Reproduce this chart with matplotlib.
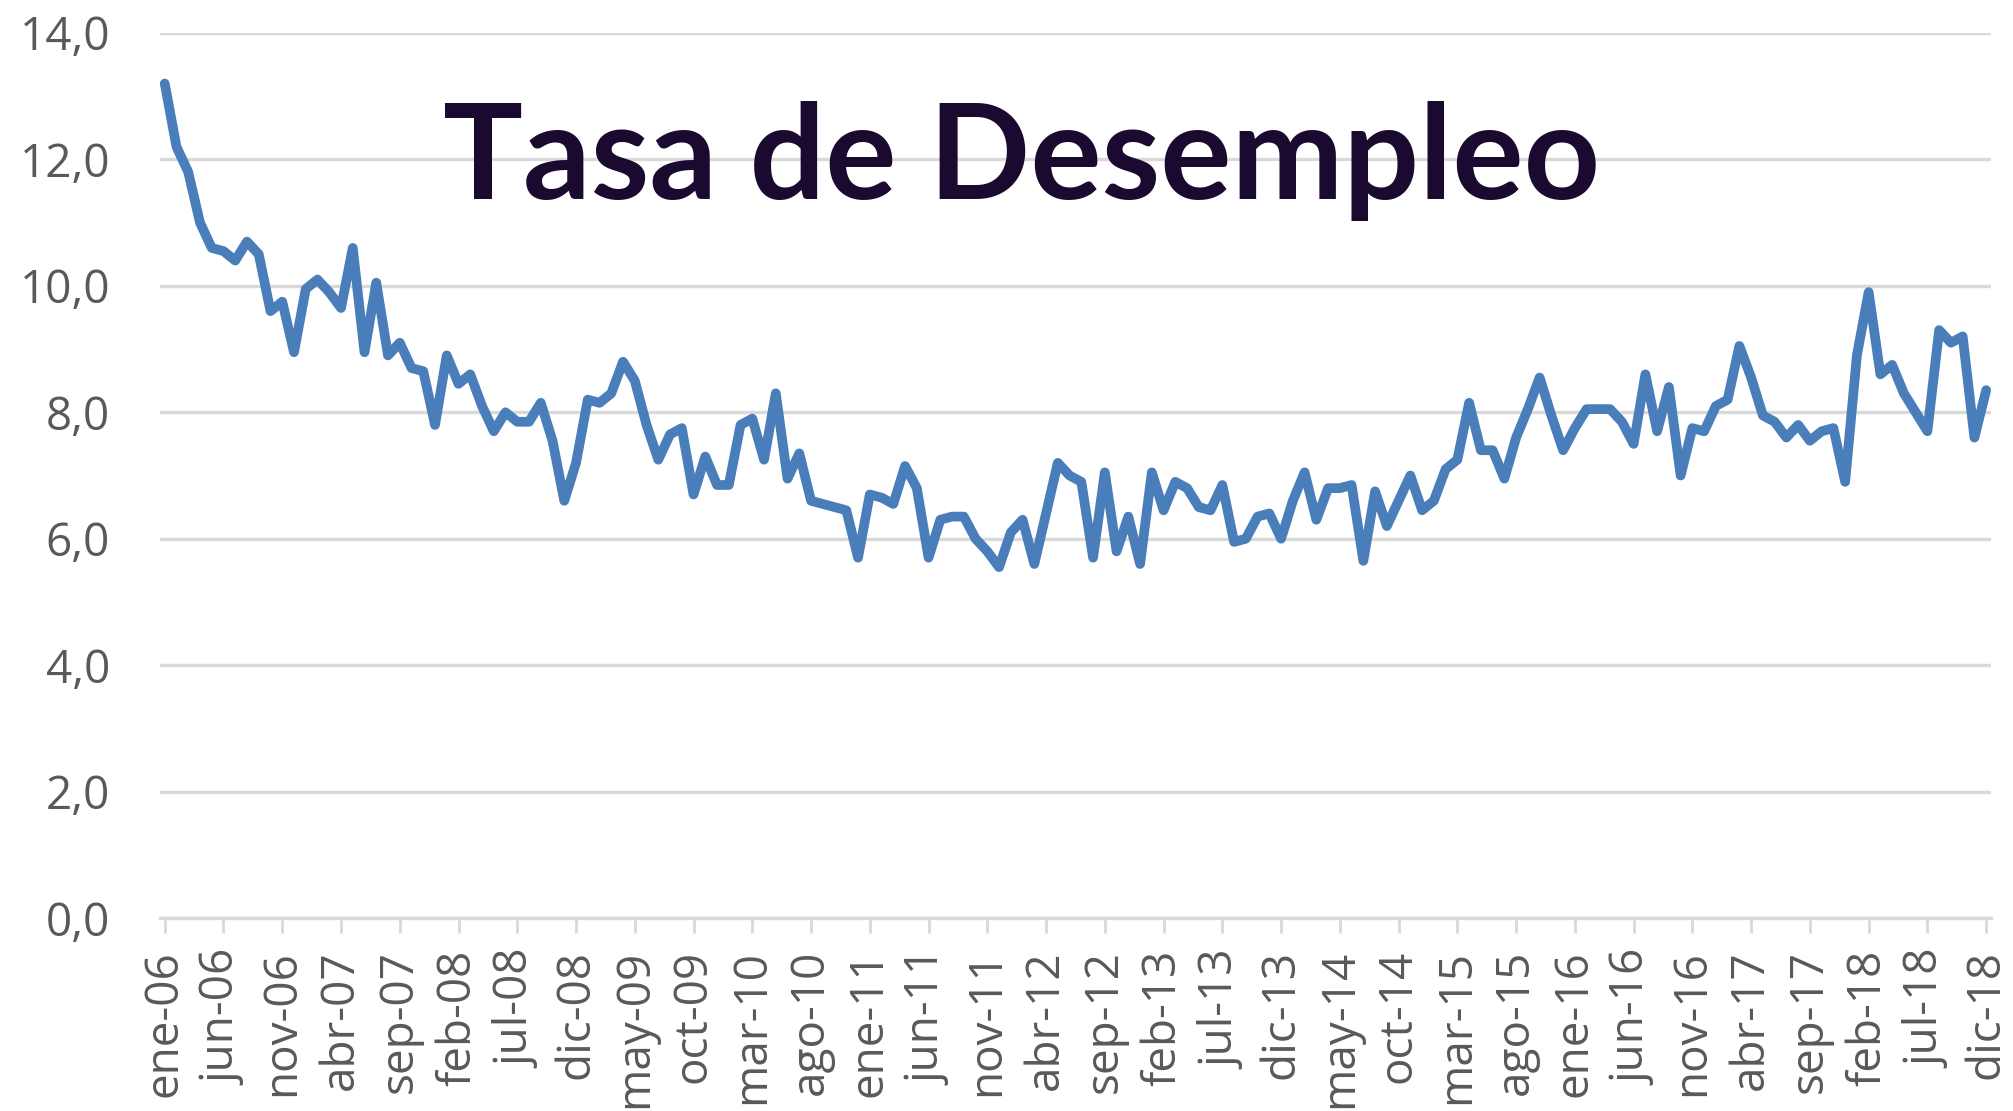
import matplotlib
matplotlib.use("Agg")
import matplotlib.pyplot as plt
from matplotlib.ticker import FuncFormatter

LINE_BLUE  = "#4a7ebb"
GRID_GRAY  = "#d9d9d9"
LABEL_GRAY = "#595959"
TITLE_INK  = "#1b0a30"

# ── data: monthly unemployment rate, ene-06 .. dic-18 ──
months_es = ["ene", "feb", "mar", "abr", "may", "jun",
             "jul", "ago", "sep", "oct", "nov", "dic"]
years = list(range(2006, 2019))
month_labels = [f"{m}-{y % 100:02d}" for y in years for m in months_es]

rate = [
    13.2, 12.2, 11.8, 11.0, 10.6, 10.55, 10.4, 10.7, 10.5, 9.6, 9.75, 8.95,
    9.95, 10.1, 9.9, 9.65, 10.6, 8.95, 10.05, 8.9, 9.1, 8.7, 8.65, 7.8,
    8.9, 8.45, 8.6, 8.1, 7.7, 8.0, 7.85, 7.85, 8.15, 7.55, 6.6, 7.2,
    8.2, 8.15, 8.3, 8.8, 8.5, 7.8, 7.25, 7.65, 7.75, 6.7, 7.3, 6.85,
    6.85, 7.8, 7.9, 7.25, 8.3, 6.95, 7.35, 6.6, 6.55, 6.5, 6.45, 5.7,
    6.7, 6.65, 6.55, 7.15, 6.8, 5.7, 6.3, 6.35, 6.35, 6.0, 5.8, 5.55,
    6.1, 6.3, 5.6, 6.4, 7.2, 7.0, 6.9, 5.7, 7.05, 5.8, 6.35, 5.6,
    7.05, 6.45, 6.9, 6.8, 6.5, 6.45, 6.85, 5.95, 6.0, 6.35, 6.4, 6.0,
    6.6, 7.05, 6.3, 6.8, 6.8, 6.85, 5.65, 6.75, 6.2, 6.6, 7.0, 6.45,
    6.6, 7.1, 7.25, 8.15, 7.4, 7.4, 6.95, 7.6, 8.05, 8.55, 7.95, 7.4,
    7.75, 8.05, 8.05, 8.05, 7.85, 7.5, 8.6, 7.7, 8.4, 7.0, 7.75, 7.7,
    8.1, 8.2, 9.05, 8.55, 7.95, 7.85, 7.6, 7.8, 7.55, 7.7, 7.75, 6.9,
    8.9, 9.9, 8.6, 8.75, 8.3, 8.0, 7.7, 9.3, 9.1, 9.2, 7.6, 8.35,
]
y_ticks = [0, 2, 4, 6, 8, 10, 12, 14]
label_step = 5

fig = plt.figure(figsize=(20.13, 11.11), dpi=100, facecolor="white")
ax = fig.add_axes([0.0795, 0.1737, 0.9095, 0.7966])

x = list(range(len(rate)))
ax.plot(x, rate, color=LINE_BLUE, linewidth=7, solid_capstyle="round",
        solid_joinstyle="round", zorder=3)

ax.set_ylim(0, 14)
ax.set_xlim(-0.4, len(rate) - 1 + 0.4)
ax.set_yticks(y_ticks)
ax.yaxis.set_major_formatter(FuncFormatter(lambda v, _: f"{v:.1f}".replace(".", ",")))
ax.yaxis.grid(True, color=GRID_GRAY, linewidth=2.4, zorder=0)
ax.set_axisbelow(True)

tick_pos = x[::label_step]
ax.set_xticks(tick_pos)
ax.set_xticklabels([month_labels[i] for i in tick_pos], rotation=90)

for side in ["top", "right", "left"]:
    ax.spines[side].set_visible(False)
ax.spines["bottom"].set_color(GRID_GRAY)
ax.spines["bottom"].set_linewidth(2.4)

ax.tick_params(axis="y", length=0, pad=36, labelsize=33, labelcolor=LABEL_GRAY)
ax.tick_params(axis="x", length=11, width=2, color=GRID_GRAY, pad=12,
               labelsize=33, labelcolor=LABEL_GRAY)
for lbl in ax.get_xticklabels() + ax.get_yticklabels():
    lbl.set_fontfamily("Open Sans")

fig.text(0.22, 0.821, "Tasa de Desempleo", ha="left", va="baseline",
         fontsize=96, fontweight="bold", color=TITLE_INK, family="Lato")

fig.savefig("out.png", dpi=100, facecolor="white")
